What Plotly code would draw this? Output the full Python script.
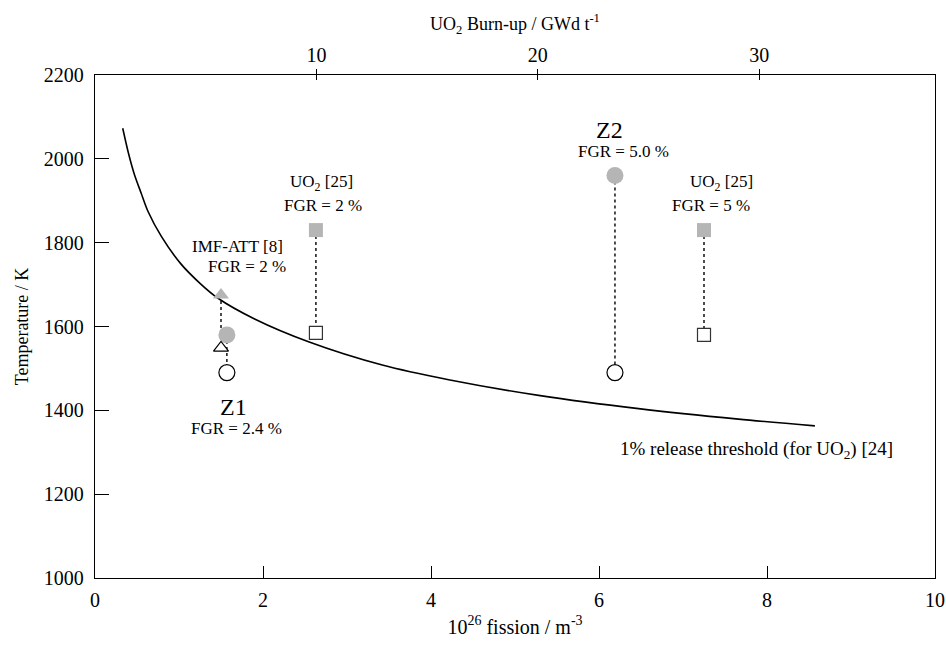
import plotly.graph_objects as go

# Threshold curve (1% release threshold for UO2)
curve_x = [0.33, 0.40, 0.47, 0.55, 0.63, 0.79, 1.02, 1.25, 1.46, 1.90, 2.55, 3.42, 4.21, 5.30, 6.47, 7.66, 8.57]
curve_T = [2073, 2012, 1962, 1918, 1875, 1815, 1750, 1703, 1668, 1618, 1563, 1508, 1473, 1435, 1404, 1379, 1363]

# Z1 (circles) and IMF-ATT (triangles)
z1_x = [1.57]
z1_T_open = [1490]
z1_T_fill = [1580]
imf_x = [1.50]
imf_T_open = [1549]
imf_T_fill = [1675]

# Z2
z2_x = [6.19]
z2_T_open = [1490]
z2_T_fill = [1960]

# UO2 [25] reference points
uo2_x = [2.63, 7.25]
uo2_T_open = [1585, 1580]
uo2_T_fill = [1830, 1830]

# axes
x_ticks = [0, 2, 4, 6, 8, 10]
y_ticks = [1000, 1200, 1400, 1600, 1800, 2000, 2200]
burnup_ticks = [10, 20, 30]
burnup_per_fission = 3.794  # GWd/t per 1e26 fission/m3

FONT = "Liberation Serif, Times New Roman, serif"
GRAY = "#b5b5b5"

fig = go.Figure()

def vline(x, t0, t1):
    fig.add_trace(go.Scatter(x=[x, x], y=[t0, t1], mode="lines",
                             line=dict(color="black", width=1.4, dash="dot"),
                             hoverinfo="skip", showlegend=False))

vline(imf_x[0], imf_T_fill[0], imf_T_open[0])
vline(z1_x[0], z1_T_fill[0], z1_T_open[0])
vline(z2_x[0], z2_T_fill[0], z2_T_open[0])
for i in range(len(uo2_x)):
    vline(uo2_x[i], uo2_T_fill[i], uo2_T_open[i])

fig.add_trace(go.Scatter(x=curve_x, y=curve_T, mode="lines",
                         line=dict(color="black", width=1.6, shape="spline", smoothing=0.8),
                         hoverinfo="skip", showlegend=False))

fig.add_trace(go.Scatter(x=imf_x, y=imf_T_fill, mode="markers",
                         marker=dict(symbol="triangle-up", size=14, color=GRAY, line=dict(width=0)),
                         showlegend=False))
fig.add_trace(go.Scatter(x=z1_x + z2_x, y=z1_T_fill + z2_T_fill, mode="markers",
                         marker=dict(symbol="circle", size=17, color=GRAY, line=dict(width=0)),
                         showlegend=False))
fig.add_trace(go.Scatter(x=uo2_x, y=uo2_T_fill, mode="markers",
                         marker=dict(symbol="square", size=14, color=GRAY, line=dict(width=0)),
                         showlegend=False))

fig.add_trace(go.Scatter(x=imf_x, y=imf_T_open, mode="markers",
                         marker=dict(symbol="triangle-up", size=13, color="white",
                                     line=dict(width=1.2, color="black")),
                         showlegend=False))
fig.add_trace(go.Scatter(x=z1_x + z2_x, y=z1_T_open + z2_T_open, mode="markers",
                         marker=dict(symbol="circle", size=16, color="white",
                                     line=dict(width=1.2, color="black")),
                         showlegend=False))
fig.add_trace(go.Scatter(x=uo2_x, y=uo2_T_open, mode="markers",
                         marker=dict(symbol="square", size=13, color="white",
                                     line=dict(width=1.2, color="#333333")),
                         showlegend=False))

fig.add_trace(go.Scatter(x=[0, 10 * burnup_per_fission], y=[None, None], xaxis="x2",
                         mode="markers", showlegend=False, hoverinfo="skip"))
fig.add_trace(go.Scatter(x=[0, 10 * burnup_per_fission], y=[None, None], xaxis="x3",
                         mode="markers", showlegend=False, hoverinfo="skip"))

def txt(x, y, s, size=17):
    fig.add_annotation(x=x, y=y, text=s, showarrow=False, xref="x", yref="y",
                       font=dict(family=FONT, size=size, color="black"))

txt(6.13, 2069, "Z2", 24)
txt(6.29, 2017, "FGR = 5.0 %")
txt(7.46, 1942, "UO<sub>2</sub> [25]")
txt(7.33, 1888, "FGR = 5 %")
txt(2.70, 1942, "UO<sub>2</sub> [25]")
txt(2.72, 1888, "FGR = 2 %")
txt(1.70, 1790, "IMF-ATT [8]")
txt(1.81, 1742, "FGR = 2 %")
txt(1.65, 1409, "Z1", 24)
txt(1.68, 1357, "FGR = 2.4 %")
txt(7.87, 1305, "1% release threshold (for UO<sub>2</sub>) [24]", 19)

axis_common = dict(showgrid=False, zeroline=False, linecolor="black", linewidth=1.3,
                   tickcolor="black", automargin=False,
                   tickfont=dict(family=FONT, size=20, color="black"))

fig.update_layout(
    width=946, height=652,
    margin=dict(l=95, r=11, t=75, b=74),
    paper_bgcolor="white", plot_bgcolor="white",
    font=dict(family=FONT, color="black"),
    showlegend=False,
    xaxis=dict(range=[0, 10], tickvals=x_ticks, ticks="inside", ticklen=12,
               showline=True, mirror=False, ticklabelstandoff=4,
               title=dict(text="10<sup>26</sup> fission / m<sup>-3</sup>",
                          font=dict(family=FONT, size=20), standoff=9),
               **axis_common),
    xaxis2=dict(range=[0, 10 * burnup_per_fission], overlaying="x", side="top", anchor="y",
                tickvals=burnup_ticks, ticks="inside", ticklen=5, showline=True,
                ticklabelstandoff=4,
                title=dict(text="UO<sub>2</sub> Burn-up / GWd t<sup>-1</sup>",
                           font=dict(family=FONT, size=18), standoff=8),
                **axis_common),
    xaxis3=dict(range=[0, 10 * burnup_per_fission], overlaying="x", side="top", anchor="y",
                tickvals=burnup_ticks, ticks="outside", ticklen=5, showline=False,
                showticklabels=False, showgrid=False, zeroline=False, tickcolor="black",
                automargin=False),
    yaxis=dict(range=[1000, 2200], tickvals=y_ticks, ticks="inside", ticklen=14,
               showline=True, mirror=True, ticklabelstandoff=6,
               title=dict(text="Temperature / K", font=dict(family=FONT, size=18), standoff=10),
               **axis_common),
)

fig.write_html("out.html",
               config={"displayModeBar": False},
               post_script="document.body.style.margin='0';document.body.style.overflow='hidden';")
